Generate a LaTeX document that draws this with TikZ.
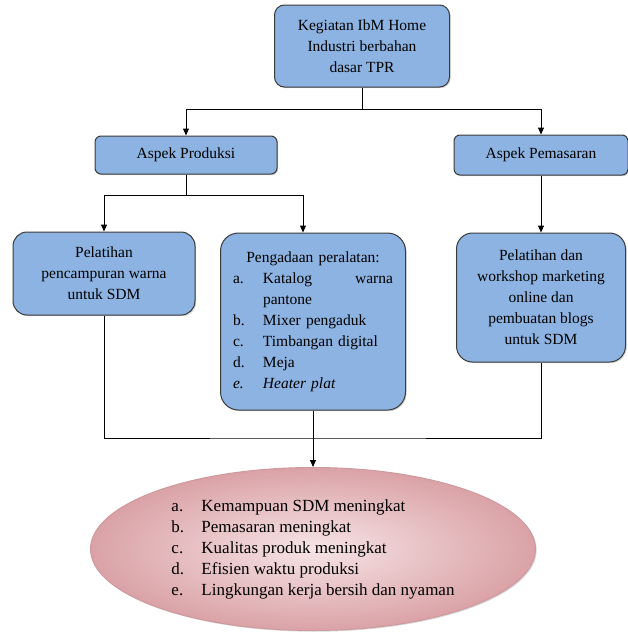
\documentclass[tikz,border=0pt]{standalone}
\usepackage{fontspec}
\setmainfont{Liberation Serif}
\usetikzlibrary{arrows.meta,shapes.geometric,shadows}
\definecolor{boxblue}{HTML}{8DB3E2}
\definecolor{boxline}{HTML}{3A3A3A}
\definecolor{rosein}{HTML}{F6E4E6}
\definecolor{roseout}{HTML}{DAA2A6}
\definecolor{roseline}{HTML}{CF9A9E}
\newcommand{\lbl}[1]{\makebox[30pt][l]{#1}}

\begin{document}
\begin{tikzpicture}[
  x=1pt, y=-1pt,
  font=\fontsize{15.5}{21}\selectfont,
  box/.style={draw=boxline, fill=boxblue, line width=1pt, align=center,
              inner sep=2pt,
              drop shadow={shadow xshift=1.2pt, shadow yshift=-1.2pt,
                           opacity=0.35}},
  line/.style={line width=1pt},
  arr/.style={line width=1pt, -{Triangle[length=7pt,width=6pt]}}
]
\useasboundingbox (0,0) rectangle (628,635);
\node[box, rounded corners=10pt, minimum width=175pt, minimum height=82pt]
  (keg) at (362,46) {Kegiatan IbM Home\\Industri berbahan\\dasar TPR};
\node[box, rounded corners=6pt, minimum width=182pt, minimum height=38pt]
  (prod) at (186,155) {Aspek Produksi};
\node[box, rounded corners=6pt, minimum width=174pt, minimum height=40pt]
  (pem) at (541,155) {Aspek Pemasaran};
\node[box, rounded corners=14pt, minimum width=182pt, minimum height=83pt]
  (latih) at (104,273.5) {Pelatihan\\pencampuran warna\\untuk SDM};
\node[box, rounded corners=18pt, minimum width=185pt, minimum height=177pt,
      align=left, text width=160pt]
  (adaan) at (313,321.5) {\makebox[\linewidth][c]{Pengadaan peralatan:}\\
  \lbl{a.}Katalog\hfill warna\\
  \hspace*{30pt}pantone\\
  \lbl{b.}Mixer pengaduk\\
  \lbl{c.}Timbangan digital\\
  \lbl{d.}Meja\\
  \textit{\lbl{e.}Heater plat}};
\node[box, rounded corners=16pt, minimum width=169pt, minimum height=129pt]
  (mkt) at (541,297.5) {Pelatihan dan\\workshop marketing\\online dan\\
  pembuatan blogs\\untuk SDM};
\node[ellipse, draw=roseline, line width=1pt, inner color=rosein,
      outer color=roseout, minimum width=445pt, minimum height=163pt,
      align=left, font=\fontsize{17}{21}\selectfont,
      drop shadow={shadow xshift=1.2pt, shadow yshift=-1.2pt, opacity=0.3}]
  (hasil) at (313,549) {\lbl{a.}Kemampuan SDM meningkat\\
  \lbl{b.}Pemasaran meningkat\\
  \lbl{c.}Kualitas produk meningkat\\
  \lbl{d.}Efisien waktu produksi\\
  \lbl{e.}Lingkungan kerja bersih dan nyaman};
% connectors
\coordinate (j1) at (362,109);
\draw[line] (keg.south) -- (j1);
\draw[arr] (j1) -| (prod.north);
\draw[arr] (j1) -| (pem.north);
\coordinate (j2) at (186,195);
\draw[line] (prod.south) -- (j2);
\draw[arr] (j2) -| (latih.north);
\draw[arr] (j2) -| ([xshift=-10pt]adaan.north);
\draw[arr] (pem.south) -- (mkt.north);
\coordinate (j3) at (313,438);
\draw[line] (latih.south) |- (j3) -| (mkt.south);
\draw[arr] (adaan.south) -- (hasil.north);
\end{tikzpicture}
\end{document}
